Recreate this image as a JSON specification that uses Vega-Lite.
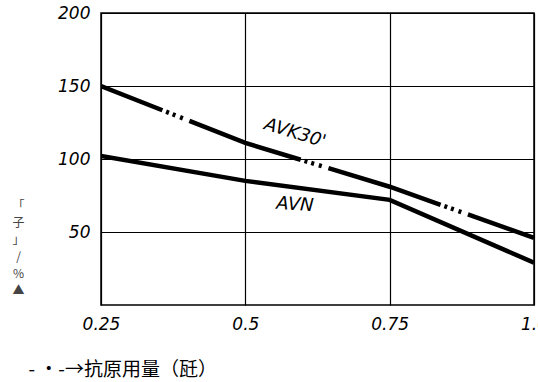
{
  "$schema": "https://vega.github.io/schema/vega-lite/v6.json",
  "width": 433,
  "height": 292,
  "autosize": "none",
  "padding": {"left": 101, "top": 13, "right": 4, "bottom": 77},
  "background": "white",
  "config": {
    "view": {"stroke": "black", "strokeWidth": 1.5},
    "axis": {"grid": true, "gridColor": "black", "gridOpacity": 1, "gridWidth": 1.2, "domain": false, "ticks": false,
      "labelFont": "DejaVu Sans", "labelFontStyle": "italic", "labelFontWeight": "normal", "labelFontSize": 17, "labelColor": "black"}
  },
  "data": {"values": [
    {"x": 0.25, "y": 150, "s": "AVK30'"},
    {"x": 0.5, "y": 111, "s": "AVK30'"},
    {"x": 0.75, "y": 81, "s": "AVK30'"},
    {"x": 1.0, "y": 46, "s": "AVK30'"},
    {"x": 0.25, "y": 102, "s": "AVN"},
    {"x": 0.5, "y": 85, "s": "AVN"},
    {"x": 0.75, "y": 72, "s": "AVN"},
    {"x": 1.0, "y": 29, "s": "AVN"}
  ]},
  "layer": [
    {
      "transform": [{"filter": "datum.s === \"AVK30'\""}],
      "mark": {"type": "line", "color": "black", "strokeWidth": 4.5, "strokeDash": [118, 4, 3, 4, 3, 5, 3, 7], "strokeDashOffset": 52, "clip": true},
      "encoding": {
        "x": {"field": "x", "type": "quantitative", "scale": {"domain": [0.25, 1.0], "nice": false},
          "axis": {"values": [0.25, 0.5, 0.75, 1.0], "labelExpr": "datum.value === 1 ? '1.0' : toString(datum.value)", "labelPadding": 11,
            "labelAlign": "center", "labelFlush": false,
            "title": "-  ·-→抗原用量（瓩）", "titleFont": "Noto Sans CJK SC", "titleFontSize": 19, "titleFontWeight": "normal",
            "titleAnchor": "start", "titleAlign": "left", "titleX": -73, "titleY": 70, "titleBaseline": "alphabetic", "titleColor": "black"}},
        "y": {"field": "y", "type": "quantitative", "scale": {"domain": [0, 200], "nice": false},
          "axis": {"values": [50, 100, 150, 200], "labelPadding": 11,
            "title": ["「", "子", "」", "/", "%", "▲"], "titleAngle": 0, "titleFont": "Noto Sans CJK SC", "titleFontSize": 12,
            "titleFontWeight": "normal", "titleColor": "#444", "titleLineHeight": 17, "titleX": -83, "titleY": 187,
            "titleAlign": "center", "titleBaseline": "top", "titleAnchor": "start"}}
      }
    },
    {
      "transform": [{"filter": "datum.s === 'AVN'"}],
      "mark": {"type": "line", "color": "black", "strokeWidth": 4.5, "clip": true},
      "encoding": {
        "x": {"field": "x", "type": "quantitative"},
        "y": {"field": "y", "type": "quantitative"}
      }
    },
    {
      "data": {"values": [
        {"x": 0.586, "y": 117.5, "label": "AVK30'", "a": 17},
        {"x": 0.586, "y": 68.5, "label": "AVN", "a": 4}
      ]},
      "mark": {"type": "text", "font": "DejaVu Sans", "fontStyle": "italic", "fontSize": 18, "color": "black"},
      "encoding": {
        "x": {"field": "x", "type": "quantitative"},
        "y": {"field": "y", "type": "quantitative"},
        "text": {"field": "label"},
        "angle": {"field": "a", "type": "quantitative", "scale": null}
      }
    }
  ]
}
